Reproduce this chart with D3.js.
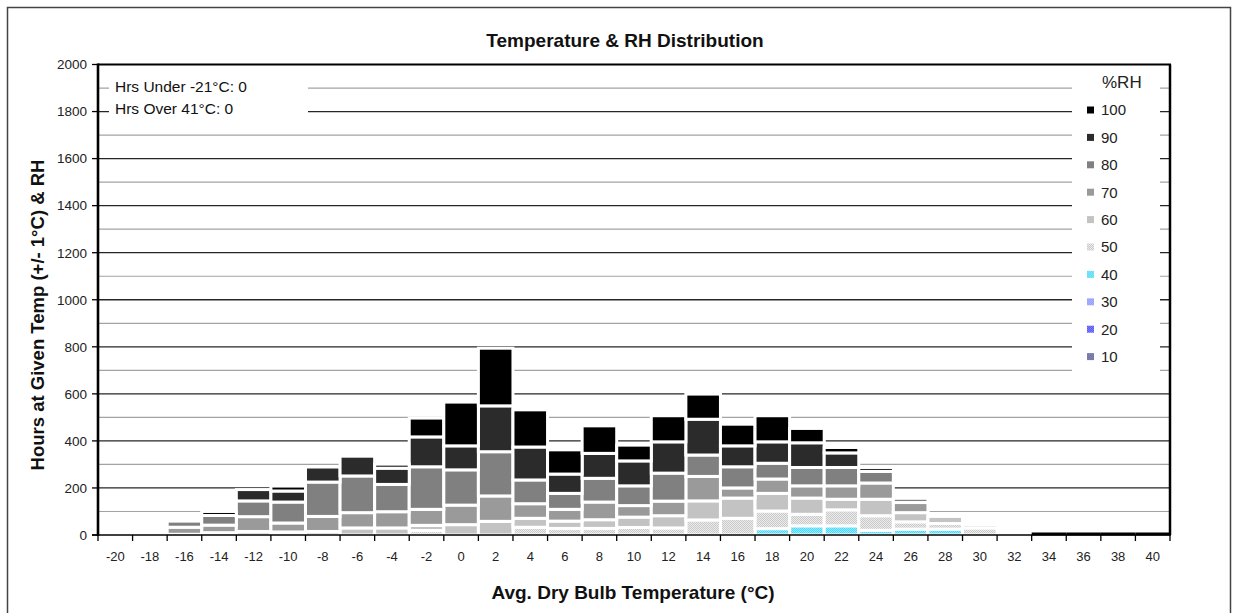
<!DOCTYPE html>
<html><head><meta charset="utf-8">
<script src="https://cdn.jsdelivr.net/npm/d3@7"></script>
<style>body{margin:0;background:#fff;} text{font-family:"Liberation Sans",Arial,sans-serif;}</style>
</head><body><svg id="c" width="1238" height="613"></svg>
<script>
// ---------- data ----------
const categories = [-20,-18,-16,-14,-12,-10,-8,-6,-4,-2,0,2,4,6,8,10,12,14,16,18,20,22,24,26,28,30,32,34,36,38,40];
const rhKeys = ["10","20","30","40","50","60","70","80","90","100"];
const rh10  = [0,0,0,0,0,0,0,0,0,0,0,0,0,0,0,0,0,0,0,0,0,0,0,0,0,0,0,0,0,0,0];
const rh20  = [0,0,0,0,0,0,0,0,0,0,0,0,0,0,0,0,0,0,0,0,0,0,0,0,0,0,0,0,0,0,0];
const rh30  = [0,0,0,0,0,0,0,0,0,0,0,0,0,0,0,0,0,0,0,0,0,0,0,0,0,0,0,0,0,0,0];
const rh40  = [0,0,0,0,0,0,0,0,0,0,0,0,0,0,0,0,0,0,0,27,39,39,20,25,25,0,0,0,0,0,0];
const rh50  = [0,0,0,0,0,0,0,0,0,19,0,0,33,28,28,32,30,64,71,75,49,68,62,31,24,30,0,0,0,0,0];
const rh60  = [0,0,3,10,15,13,15,30,30,22,44,58,38,31,37,44,52,81,86,75,69,45,70,39,30,14,0,0,0,0,0];
const rh70  = [0,0,30,32,63,38,64,65,69,68,83,108,62,50,75,49,62,104,43,61,52,57,69,43,0,0,0,0,0,0,0];
const rh80  = [0,0,26,41,67,89,146,156,116,181,150,188,101,68,101,84,119,91,90,67,78,78,49,18,0,0,0,0,0,0,0];
const rh90  = [0,0,0,0,48,47,64,84,69,127,102,195,140,82,106,106,133,152,89,91,105,62,17,0,0,0,0,0,0,0,0];
const rh100 = [0,0,0,17,0,21,0,0,17,80,186,245,158,103,117,67,111,107,92,111,61,23,0,0,0,0,0,0,0,0,0];
const flatBins = [34,36,38,40];
const yTicks = [0,200,400,600,800,1000,1200,1400,1600,1800,2000];
const minorLines = [100,300,500,700,900,1100,1300,1500,1700,1900];
const legendTitle = "%RH";
const infoLines = ["Hrs Under -21°C: 0", "Hrs Over 41°C: 0"];
const titleText = "Temperature & RH Distribution";
const xTitle = "Avg. Dry Bulb Temperature (°C)";
const yTitle = "Hours at Given Temp (+/- 1°C) & RH";

// ---------- build ----------
const series = {"10":rh10,"20":rh20,"30":rh30,"40":rh40,"50":rh50,"60":rh60,"70":rh70,"80":rh80,"90":rh90,"100":rh100};
const table = categories.map((t,i)=>{const r={t}; rhKeys.forEach(k=>r[k]=series[k][i]); return r;});

const svg = d3.select("#c");
const L=98, R=1170, T=64.5, B=535;
const x = d3.scaleBand().domain(categories).range([L,R]).padding(0);
const y = d3.scaleLinear().domain([0,2000]).range([B,T]);

const defs = svg.append("defs");
const pats = {
  "50":["#ececec","#c9c9c9"],
  "40":["#8ff0ff","#4fd2f5"],
  "30":["#b4bcff","#8c96ff"],
  "20":["#8a8aff","#5050ee"],
  "10":["#9a9ac4","#5c5c94"]
};
Object.entries(pats).forEach(([k,[a,b]])=>{
  const p = defs.append("pattern").attr("id","p"+k).attr("patternUnits","userSpaceOnUse").attr("width",2).attr("height",2);
  p.append("rect").attr("width",2).attr("height",2).attr("fill",a);
  p.append("rect").attr("width",1).attr("height",1).attr("fill",b);
  p.append("rect").attr("x",1).attr("y",1).attr("width",1).attr("height",1).attr("fill",b);
});
const fills = {"100":"#000000","90":"#2b2b2b","80":"#808080","70":"#9a9a9a","60":"#c3c3c3",
  "50":"url(#p50)","40":"url(#p40)","30":"url(#p30)","20":"url(#p20)","10":"url(#p10)"};

// outer border
svg.append("rect").attr("x",7.5).attr("y",7.5).attr("width",1223).attr("height",640)
  .attr("fill","none").attr("stroke","#444").attr("stroke-width",1.5);

// title
svg.append("text").attr("x",625).attr("y",46.5).attr("text-anchor","middle")
  .attr("font-size",19).attr("font-weight","bold").attr("fill","#111").text(titleText);

// gridlines
svg.append("g").selectAll("line").data(minorLines).join("line")
  .attr("x1",L).attr("x2",R).attr("y1",d=>y(d)).attr("y2",d=>y(d))
  .attr("stroke","#a3a3a3").attr("stroke-width",1.2);
svg.append("g").selectAll("line").data(yTicks.filter(d=>d>0&&d<2000)).join("line")
  .attr("x1",L).attr("x2",R).attr("y1",d=>y(d)).attr("y2",d=>y(d))
  .attr("stroke","#262626").attr("stroke-width",1.3);

// bars
const stack = d3.stack().keys(rhKeys)(table);
svg.append("g").selectAll("g").data(stack).join("g")
  .attr("fill",d=>fills[d.key])
  .selectAll("rect").data(d=>d.filter(s=>s[1]-s[0]>0)).join("rect")
  .attr("x",d=>x(d.data.t)).attr("width",x.bandwidth())
  .attr("y",d=>y(d[1])).attr("height",d=>y(d[0])-y(d[1]))
  .attr("stroke","#fff").attr("stroke-width",3);

// flat bins (zero-height bars drawn on baseline)
svg.append("g").selectAll("line").data(flatBins).join("line")
  .attr("x1",d=>x(d)).attr("x2",d=>x(d)+x.bandwidth())
  .attr("y1",B-1).attr("y2",B-1).attr("stroke","#000").attr("stroke-width",3);

// info box
svg.append("rect").attr("x",109).attr("y",73).attr("width",199).attr("height",50).attr("fill","#fff");
svg.append("g").selectAll("text").data(infoLines).join("text")
  .attr("x",115).attr("y",(d,i)=>91.5+i*22).attr("font-size",15.5).attr("fill","#111").text(d=>d);

// legend
svg.append("rect").attr("x",1072).attr("y",66).attr("width",88).attr("height",312).attr("fill","#fff");
svg.append("text").attr("x",1102).attr("y",88).attr("font-size",17).attr("fill","#222").text(legendTitle);
const legKeys = rhKeys.slice().reverse();
const lg = svg.append("g").selectAll("g").data(legKeys).join("g")
  .attr("transform",(d,i)=>`translate(0,${110+i*27.4})`);
lg.append("rect").attr("x",1087).attr("y",-3.5).attr("width",7).attr("height",7).attr("fill",d=>fills[d]);
lg.append("text").attr("x",1101).attr("y",5.3).attr("font-size",15).attr("fill","#222").text(d=>d);

// frame / axes
svg.append("line").attr("x1",L).attr("x2",R+1).attr("y1",T).attr("y2",T).attr("stroke","#000").attr("stroke-width",2.2);
svg.append("line").attr("x1",R).attr("x2",R).attr("y1",T).attr("y2",B).attr("stroke","#000").attr("stroke-width",2.5);
svg.append("line").attr("x1",L-6).attr("x2",R+1).attr("y1",B).attr("y2",B).attr("stroke","#000").attr("stroke-width",1.6);
svg.append("line").attr("x1",L).attr("x2",L).attr("y1",T-1).attr("y2",B+1).attr("stroke","#000").attr("stroke-width",2.6);

// y ticks
svg.append("g").selectAll("line").data(yTicks).join("line")
  .attr("x1",L-6).attr("x2",L).attr("y1",d=>y(d)).attr("y2",d=>y(d)).attr("stroke","#000").attr("stroke-width",1.3);
svg.append("g").selectAll("text").data(yTicks).join("text")
  .attr("x",L-11).attr("y",d=>y(d)+4.8).attr("text-anchor","end").attr("font-size",13.5).attr("fill","#222").text(d=>d);

// x ticks at band boundaries
const bounds = categories.map(c=>x(c)).concat([R]);
svg.append("g").selectAll("line").data(bounds).join("line")
  .attr("x1",d=>d).attr("x2",d=>d).attr("y1",B).attr("y2",B+6).attr("stroke","#000").attr("stroke-width",1.3);
svg.append("g").selectAll("text").data(categories).join("text")
  .attr("x",d=>x(d)+x.bandwidth()/2).attr("y",B+26).attr("text-anchor","middle")
  .attr("font-size",13).attr("fill","#222").text(d=>d);

// axis titles
svg.append("text").attr("x",633).attr("y",598.5).attr("text-anchor","middle")
  .attr("font-size",19).attr("font-weight","bold").attr("fill","#111").text(xTitle);
svg.append("text").attr("transform","translate(44,315) rotate(-90)").attr("text-anchor","middle")
  .attr("font-size",18.5).attr("font-weight","bold").attr("fill","#111").text(yTitle);
</script></body></html>
